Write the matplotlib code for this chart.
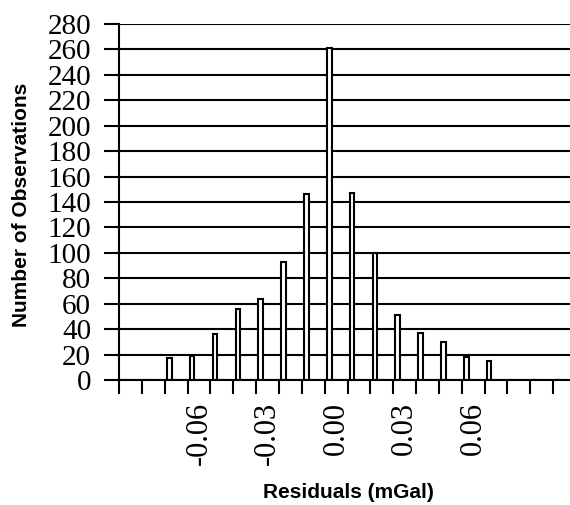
import matplotlib.pyplot as plt
import numpy as np

# residual bins (mGal) and counts
residuals = ['-0.09', '-0.08', '-0.07', '-0.06', '-0.05', '-0.04', '-0.03',
             '-0.02', '-0.01', '0.00', '0.01', '0.02', '0.03', '0.04',
             '0.05', '0.06', '0.07', '0.08', '0.09', '0.10']
counts = [0, 0, 17, 19, 36, 56, 64, 93, 146, 261, 147, 100, 51, 37,
          30, 18, 15, 0, 0, 0]
shown_labels = ['-0.06', '-0.03', '0.00', '0.03', '0.06']
yticks = list(range(0, 281, 20))

fig = plt.figure(figsize=(5.7, 5.05), dpi=100)
# axes run a little past the right edge, as in the cropped original
ax = fig.add_axes([119 / 570, 1 - 380 / 505, 457 / 570, 356 / 505])

x = np.arange(len(residuals))
ax.bar(x + 0.2, counts, width=0.2, color='white', edgecolor='black',
       linewidth=1.5, zorder=3)

ax.set_xlim(0, len(residuals))
ax.set_ylim(0, 280)

# category boundaries get the tick marks
ax.set_xticks(np.arange(len(residuals) + 1))
ax.set_xticklabels([])
ax.tick_params(axis='x', which='major', direction='out', length=10,
               width=1.5, color='black')

# labels sit on the category centres
lab_pos = [residuals.index(s) + 0.5 for s in shown_labels]
ax.set_xticks(lab_pos, minor=True)
ax.set_xticklabels(shown_labels, minor=True, rotation=90,
                   fontfamily='Liberation Serif', fontsize=22)
ax.tick_params(axis='x', which='minor', length=0, pad=16)

ax.set_yticks(yticks)
ax.set_yticklabels([str(v) for v in yticks], fontfamily='Liberation Serif',
                   fontsize=21)
ax.tick_params(axis='y', direction='out', length=11, width=1.5, pad=9,
               color='black')

ax.grid(axis='y', color='black', linewidth=1.5, zorder=1)
ax.set_axisbelow(True)

for side in ['top', 'right']:
    ax.spines[side].set_visible(False)
for side in ['left', 'bottom']:
    ax.spines[side].set_linewidth(1.5)
    ax.spines[side].set_zorder(4)

fig.text(22 / 570, 1 - 205 / 505, 'Number of Observations', rotation=90,
         ha='center', va='center', fontfamily='Liberation Sans',
         fontweight='bold', fontsize=15)
fig.text(348 / 570, 1 - 493 / 505, 'Residuals (mGal)', ha='center',
         va='center', fontfamily='Liberation Sans', fontweight='bold',
         fontsize=15)

fig.savefig('out.png', dpi=100)
